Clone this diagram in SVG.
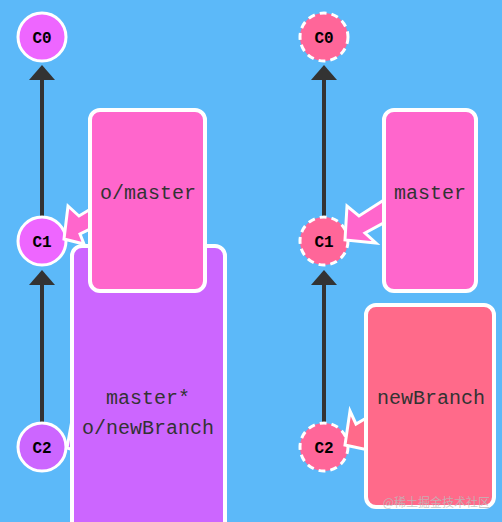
<svg xmlns="http://www.w3.org/2000/svg" width="502" height="522" viewBox="0 0 502 522">
<style>
.commit{stroke:#fff;stroke-width:3}
.dash{stroke-dasharray:7 5}
.clabel{font-family:"Liberation Mono",monospace;font-weight:bold;font-size:16px;fill:#000;text-anchor:middle}
.box{stroke:#fff;stroke-width:4}
.blabel{font-family:"Liberation Mono","Courier New",monospace;font-size:20px;fill:#333;text-anchor:middle}
.ptr{stroke:#fff;stroke-width:3;stroke-linejoin:miter}
.edge{stroke:#333;stroke-width:4;fill:none}
.head{fill:#333}
</style>
<rect x="0" y="0" width="502" height="522" fill="#5cb9f9"/>
<g id="connectors">
<line class="edge" x1="42" y1="216" x2="42" y2="78"/>
<polygon class="head" points="42,65 29,80 55,80"/>
<line class="edge" x1="42" y1="422" x2="42" y2="282"/>
<polygon class="head" points="42,270 29,285 55,285"/>
<line class="edge" x1="324" y1="216" x2="324" y2="78"/>
<polygon class="head" points="324,65 311,80 337,80"/>
<line class="edge" x1="324" y1="422" x2="324" y2="282"/>
<polygon class="head" points="324,270 311,285 337,285"/>
</g>
<g id="c0-left"><circle class="commit" cx="42" cy="37" r="24" fill="#ee66ff"/><text class="clabel" x="42" y="43">C0</text></g>
<g id="c1-left"><circle class="commit" cx="42" cy="241" r="24" fill="#ee66ff"/><text class="clabel" x="42" y="247">C1</text></g>
<g id="c2-left"><circle class="commit" cx="42" cy="447" r="24" fill="#cc66ff"/><text class="clabel" x="42" y="453">C2</text></g>
<g id="c0-right"><circle class="commit dash" cx="324" cy="37" r="24" fill="#ff6699"/><text class="clabel" x="324" y="43">C0</text></g>
<g id="c1-right"><circle class="commit dash" cx="324" cy="241" r="24" fill="#ff6699"/><text class="clabel" x="324" y="247">C1</text></g>
<g id="c2-right"><circle class="commit dash" cx="324" cy="447" r="24" fill="#ff6699"/><text class="clabel" x="324" y="453">C2</text></g>
<g id="master-newbranch-left">
<path class="ptr" d="M80,428 L72,420 L67,448 L80,452 Z" fill="#cc66ff"/>
<rect class="box" x="72" y="246" width="153" height="290" rx="10" fill="#cc66ff"/>
<text class="blabel" x="148" y="404">master*</text>
<text class="blabel" x="148" y="434">o/newBranch</text>
</g>
<g id="o-master-left">
<path class="ptr" d="M94,207 L79,216 L68,206 L64,239 L84,244 L80,234 L94,227 Z" fill="#ff66cc"/>
<rect class="box" x="90" y="110" width="115" height="181" rx="10" fill="#ff66cc"/>
<text class="blabel" x="148" y="199">o/master</text>
</g>
<g id="master-right">
<path class="ptr" d="M387,198 L359,216 L347,206 L345,240 L376,243 L365,233 L387,221 Z" fill="#ff66cc"/>
<rect class="box" x="384" y="110" width="92" height="181" rx="10" fill="#ff66cc"/>
<text class="blabel" x="430" y="199">master</text>
</g>
<g id="newbranch-right">
<path class="ptr" d="M368,417 L356,424 L350,411 L345,445 L368,450 Z" fill="#ff6a8a"/>
<rect class="box" x="366" y="305" width="128" height="202" rx="10" fill="#ff6a8a"/>
<text class="blabel" x="431" y="404">newBranch</text>
</g>
<text x="490" y="507" text-anchor="end" font-family="'Noto Sans CJK SC',sans-serif" font-size="12" fill="#bbb" fill-opacity="0.8">@稀土掘金技术社区</text>
</svg>
